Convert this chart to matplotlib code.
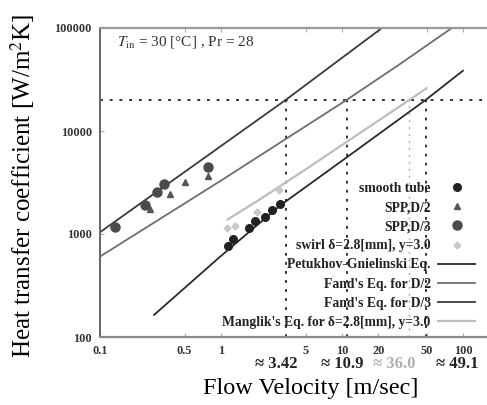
import numpy as np
import matplotlib
matplotlib.use('Agg')
import matplotlib.pyplot as plt
from matplotlib.ticker import FixedLocator, FixedFormatter, NullLocator

plt.rcParams['font.family'] = ['Liberation Serif', 'DejaVu Serif']
plt.rcParams['mathtext.fontset'] = 'stix'

# measured data [m/s], [W/m2K]
v_smooth = [1.15, 1.25, 1.7, 1.9, 2.3, 2.65, 3.1]
h_smooth = [770, 900, 1150, 1330, 1450, 1700, 1950]
v_spp2 = [0.259, 0.377, 0.5, 0.78]
h_spp2 = [1740, 2430, 3180, 3630]
v_spp3 = [0.133, 0.235, 0.297, 0.337, 0.78]
h_spp3 = [1180, 1900, 2540, 3040, 4460]
v_swirl = [1.13, 1.3, 2.0, 3.0]
h_swirl = [1150, 1200, 1650, 2650]

# correlations
v_pg = [0.28, 0.98, 3.1, 11, 49.1, 100]
h_pg = [164, 600, 1900, 5570, 20000, 38500]
v_fand2 = [0.1, 1.0, 10.9, 30, 81]
h_fand2 = [604, 3300, 20000, 44500, 100000]
v_fand3 = [0.1, 2.1, 3.42, 21.4]
h_fand3 = [1040, 13300, 20000, 100000]
v_mang = [1.13, 2.1, 4.77, 36.0, 50]
h_mang = [1380, 2170, 4080, 20000, 26000]

h_target = 20000
v_cross = [3.42, 10.9, 36.0, 49.1]
cross_txt = ['≈ 3.42', '≈ 10.9', '≈ 36.0', '≈ 49.1']
cross_col = ['#222222', '#222222', '#b0b0b0', '#222222']

xticks = [0.1, 0.5, 1, 5, 10, 20, 50, 100]
xticklabels = ['0.1', '0.5', '1', '5', '10', '20', '50', '100']
yticks = [100, 1000, 10000, 100000]
yticklabels = ['100', '1000', '10000', '100000']

fig = plt.figure(figsize=[4.87, 4.05], dpi=100)
ax = fig.add_axes([100/487, 68/405, 387/487, 309/405])
ax.set_xscale('log')
ax.set_yscale('log')
ax.set_xlim(0.1, 158)
ax.set_ylim(100, 100000)

# guide lines
ax.axhline(h_target, color='#333333', lw=1.4, ls=(0, (1.5, 3.5)))
for vc, c in zip(v_cross, cross_col):
    ax.plot([vc, vc], [100, h_target], color=c, lw=1.3 if c != '#b0b0b0' else 1.0,
             ls=(0, (1.5, 3.5)))

# curves
ax.plot(v_pg, h_pg, color='#2a2a2a', lw=1.3, label='Petukhov-Gnielinski Eq.')
ax.plot(v_fand2, h_fand2, color='#6e6e6e', lw=1.3, label="Fand's Eq. for D/2")
ax.plot(v_fand3, h_fand3, color='#3a3a3a', lw=1.3, label="Fand's Eq. for D/3")
ax.plot(v_mang, h_mang, color='#bdbdbd', lw=1.6, label="Manglik's Eq. for δ=2.8[mm], y=3.0")

# points
ax.plot(v_smooth, h_smooth, 'o', color='#222222', ms=5.5, ls='none', label='smooth tube')
ax.plot(v_spp2, h_spp2, '^', color='#555555', ms=5, ls='none', label='SPP,D/2')
ax.plot(v_spp3, h_spp3, 'o', color='#4a4a4a', ms=6.5, ls='none', label='SPP,D/3')
ax.plot(v_swirl, h_swirl, 'D', color='#c8c8c8', ms=3.5, ls='none', label='swirl δ=2.8[mm], y=3.0')

handles, labels = ax.get_legend_handles_labels()
order = [4, 5, 6, 7, 0, 1, 2, 3]
leg = ax.legend([handles[i] for i in order], [labels[i] for i in order],
                loc='lower right', bbox_to_anchor=(0.99, 0.0), frameon=False,
                markerfirst=False, handlelength=2.7, handletextpad=0.55,
                labelspacing=0.45, borderpad=0.1, prop={'weight': 'bold', 'size': 9.8})
for t in leg.get_texts():
    t.set_color('#222222')

# axes styling
ax.spines['right'].set_visible(False)
ax.spines['top'].set_color('#9a9a9a')
ax.spines['top'].set_linewidth(1.6)
ax.spines['bottom'].set_color('#8a8a8a')
ax.spines['bottom'].set_linewidth(1.6)
ax.spines['left'].set_color('#666666')
ax.spines['left'].set_linewidth(1.4)
ax.xaxis.set_major_locator(FixedLocator(xticks))
ax.xaxis.set_major_formatter(FixedFormatter(xticklabels))
ax.xaxis.set_minor_locator(NullLocator())
ax.yaxis.set_major_locator(FixedLocator(yticks))
ax.yaxis.set_major_formatter(FixedFormatter(yticklabels))
ax.yaxis.set_minor_locator(NullLocator())
ax.tick_params(direction='in', length=3, width=0.8, color='#aaaaaa', top=True,
               labelsize=8.8, pad=6)
for lab in ax.get_xticklabels() + ax.get_yticklabels():
    lab.set_fontweight('bold')
    lab.set_color('#333333')

ax.text(0.045, 0.955, r'$T_{\rm in}$ = 30 [°C] , Pr = 28', transform=ax.transAxes,
        fontsize=11, color='#333333', ha='left', va='center')

ax.set_xlabel('Flow Velocity [m/sec]', fontsize=17.5, va='center')
ax.xaxis.set_label_coords(0.545, -0.168)
ax.set_ylabel('Heat transfer coefficient [W/m$^2$K]', fontsize=18, va='center')
ax.yaxis.set_label_coords(-0.2, 0.49)

# crossing velocities written under the axis
xpos = [276, 342, 394, 457]
for xp, t, c in zip(xpos, cross_txt, cross_col):
    fig.text(xp/487, 1 - 364/405, t, fontsize=12, fontweight='bold', color=c,
             ha='center', va='center')

fig.savefig('out.png', dpi=100)
